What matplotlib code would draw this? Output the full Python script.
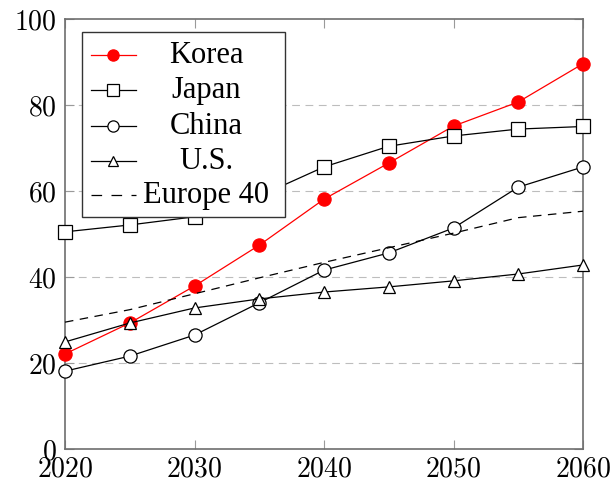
import matplotlib
matplotlib.use("Agg")
import matplotlib.pyplot as plt
from matplotlib.ticker import FuncFormatter, FixedLocator
from matplotlib.patches import Rectangle
from matplotlib.lines import Line2D

plt.rcParams['mathtext.fontset'] = 'cm'

years = [2020, 2025, 2030, 2035, 2040, 2045, 2050, 2055, 2060]
korea = [22.1, 29.3, 37.9, 47.4, 58.1, 66.5, 75.1, 80.7, 89.6]
japan = [50.5, 52.1, 54.0, 58.8, 65.6, 70.4, 72.8, 74.4, 75.0]
china = [18.1, 21.6, 26.5, 34.0, 41.6, 45.6, 51.4, 60.9, 65.6]
us = [24.9, 29.3, 32.8, 34.9, 36.5, 37.7, 39.1, 40.7, 42.8]
europe40 = [29.5, 32.4, 36.1, 39.8, 43.4, 46.8, 50.2, 53.8, 55.3]

series_names = ["Korea", "Japan", "China", "U.S.", "Europe 40"]
x_ticks = [2020, 2030, 2040, 2050, 2060]
y_ticks = [0, 20, 40, 60, 80, 100]

fig = plt.figure(figsize=(6.13, 4.84), dpi=100)
ax = fig.add_axes([65/613, 1-449/484, 518/613, 430/484])

lw = 0.9
styles = [
    dict(color='red', marker='o', markersize=9.5, markerfacecolor='red', markeredgecolor='red', linestyle='-'),
    dict(color='black', marker='s', markersize=9.5, markerfacecolor='white', markeredgecolor='black', linestyle='-'),
    dict(color='black', marker='o', markersize=9.5, markerfacecolor='white', markeredgecolor='black', linestyle='-'),
    dict(color='black', marker='^', markersize=8, markerfacecolor='white', markeredgecolor='black', linestyle='-'),
    dict(color='black', marker=None, linestyle=(0, (6.8, 5.2))),
]
data = [korea, japan, china, us, europe40]
for i, (vals, st) in enumerate(zip(data, styles)):
    ax.plot(years, vals, linewidth=lw, markeredgewidth=0.9, clip_on=False, zorder=3+i, **st)

ax.set_xlim(2020, 2060)
ax.set_ylim(0, 100)
ax.xaxis.set_major_locator(FixedLocator(x_ticks))
ax.yaxis.set_major_locator(FixedLocator(y_ticks))
fmt = FuncFormatter(lambda v, p: r'$%d$' % v)
ax.xaxis.set_major_formatter(fmt)
ax.yaxis.set_major_formatter(fmt)

spine_c = '#6e6e6e'
for s in ax.spines.values():
    s.set_color(spine_c)
    s.set_linewidth(1.2)
ax.tick_params(axis='both', which='major', direction='in', length=6.5, width=0.8,
               color='#9a9a9a', labelsize=20, top=True, right=True)
ax.tick_params(axis='x', pad=4)
ax.tick_params(axis='y', pad=6)

for yv in y_ticks[1:-1]:
    ax.axhline(yv, color='#bdbdbd', linewidth=0.8, linestyle=(0, (7, 5)), zorder=1)

# legend (manual, centered text like pgfplots)
ax.add_patch(Rectangle((17/518, (449-217)/430), (285-82)/518, (217-32)/430,
                       transform=ax.transAxes, facecolor='white', edgecolor='#333333',
                       linewidth=1.0, zorder=20, clip_on=False))
mark_y = [55, 90, 126, 161, 195]
for name, st, my in zip(series_names, styles, mark_y):
    yf = (449 - my) / 430
    st2 = dict(st)
    ls = st2.pop('linestyle')
    if name == "Europe 40":
        ls = (0, (8.5, 7.5))
    l = Line2D([26/518, 71/518], [yf, yf], transform=ax.transAxes, linewidth=lw, zorder=21,
               color=st2.pop('color'), linestyle=ls, marker=None)
    ax.add_line(l)
    if st.get('marker'):
        m = Line2D([48/518], [yf], transform=ax.transAxes, linestyle='none', zorder=22,
                   marker=st['marker'], markersize=st['markersize'] * 0.85,
                   markerfacecolor=st['markerfacecolor'], markeredgecolor=st['markeredgecolor'],
                   markeredgewidth=0.9)
        ax.add_line(m)
    ax.text(141/518, (449 - my - 8) / 430, name, transform=ax.transAxes, ha='center', va='baseline',
            fontsize=22, family='Liberation Serif', zorder=23)

fig.savefig('out.png', dpi=100)
